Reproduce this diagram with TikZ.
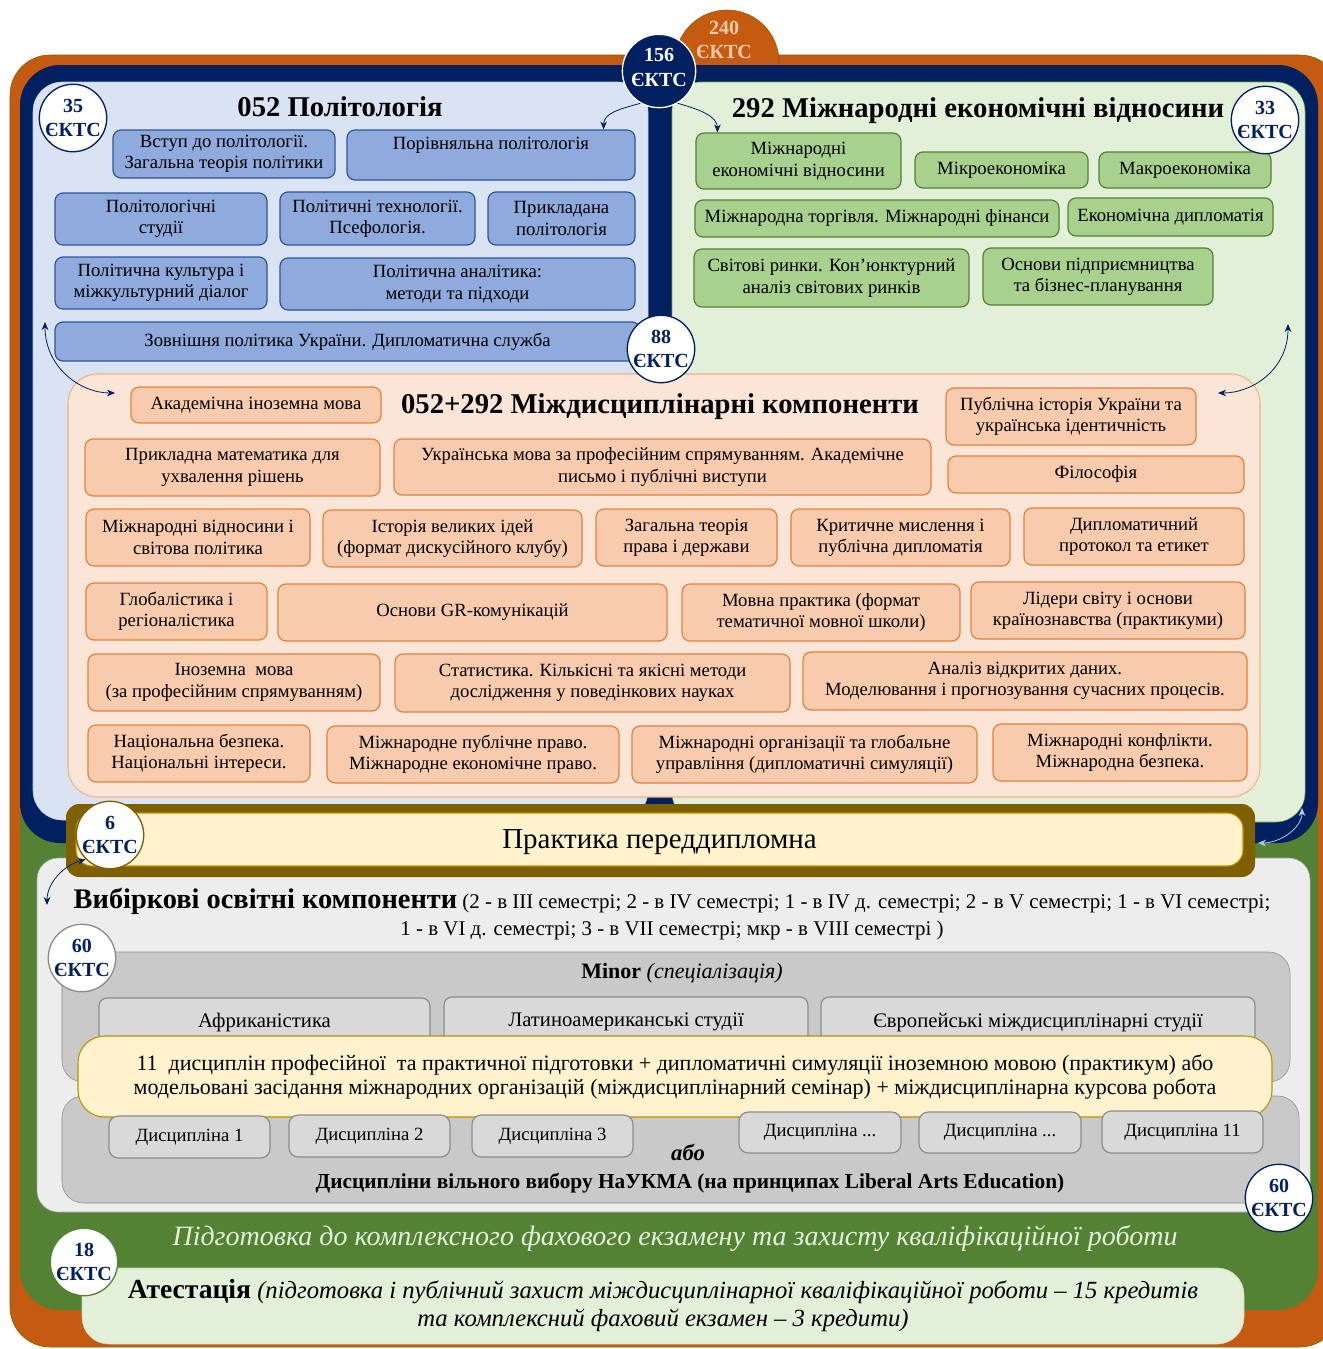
\documentclass[tikz,border=0pt]{standalone}
\usepackage{fontspec}
\setmainfont{Liberation Serif}
\usetikzlibrary{arrows.meta}

\definecolor{orfrm}{HTML}{C55A11}
\definecolor{navyc}{HTML}{002060}
\definecolor{grfrm}{HTML}{548235}
\definecolor{olivec}{HTML}{7F6000}
\definecolor{bluepan}{HTML}{DAE3F3}
\definecolor{bluepanln}{HTML}{B4C7E7}
\definecolor{bluebox}{HTML}{8FAADC}
\definecolor{blueln}{HTML}{2F5597}
\definecolor{greenpan}{HTML}{E2F0D9}
\definecolor{greenpanln}{HTML}{70AD47}
\definecolor{greenbox}{HTML}{A9D18E}
\definecolor{orpan}{HTML}{FBE5D6}
\definecolor{orpanln}{HTML}{F4B183}
\definecolor{orbox}{HTML}{F8CBAD}
\definecolor{orln}{HTML}{E2803F}
\definecolor{creamc}{HTML}{FFF2CC}
\definecolor{goldln}{HTML}{BF9000}
\definecolor{graypan}{HTML}{EDEDED}
\definecolor{graypanln}{HTML}{A6A6A6}
\definecolor{graymid}{HTML}{C9C9C9}
\definecolor{grayitem}{HTML}{D9D9D9}
\definecolor{grayln}{HTML}{8C8C8C}
\definecolor{peachtxt}{HTML}{F8CBAD}

\tikzset{
  spanbox/.style n args={4}{at={({(#1+#3)/2},{(#2+#4)/2})},
    minimum width={(#3-#1)*0.75pt}, minimum height={(#4-#2)*0.75pt}},
  pitem/.style={rounded corners=6pt, line width=0.9pt, align=center, inner sep=1pt,
    font=\fontsize{14}{16}\selectfont},
  polbox/.style={pitem, draw=blueln, fill=bluebox},
  econbox/.style={pitem, draw=grfrm, fill=greenbox},
  interbox/.style={pitem, draw=orln, fill=orbox},
  minorbox/.style={pitem, draw=grayln, fill=grayitem, text depth=0pt, font=\fontsize{15.5}{18}\selectfont},
  discbox/.style={pitem, draw=grayln, fill=grayitem, rounded corners=7pt},
  ects/.style={circle, draw=navyc, fill=white, line width=1pt, minimum size=48pt,
    inner sep=0pt, align=center, text=navyc, font=\bfseries\fontsize{15}{18.5}\selectfont},
  pantitle/.style={font=\bfseries\fontsize{21.5}{24}\selectfont},
  arr/.style={-{Stealth[length=6pt,width=5pt]}, navyc, line width=0.6pt},
  darr/.style={{Stealth[length=6pt,width=5pt]}-{Stealth[length=6pt,width=5pt]}, navyc, line width=0.6pt},
}

\begin{document}
\begin{tikzpicture}[x=0.75pt, y=-0.75pt]
\useasboundingbox (0,0) rectangle (1322,1349);

% frames
\draw[fill=orfrm, draw=olivec, rounded corners=30pt] (10,55) rectangle (1340,1347);
\node[circle, fill=orfrm, draw=olivec, minimum size=78pt, inner sep=0pt] (c240) at (727,62) {};
\fill[grfrm, rounded corners=30pt] (20,780) rectangle (1318,1310);
\fill[navyc, rounded corners=30pt] (20,65) rectangle (1318,843);

% panels
\draw[fill=bluepan, draw=bluepanln, rounded corners=22pt] (33,82) rectangle (648,820);
\draw[fill=greenpan, draw=greenpanln, rounded corners=22pt] (672,82) rectangle (1305,822);
\draw[fill=orpan, draw=orpanln, line width=0.8pt, rounded corners=22pt] (68,374) rectangle (1260,797);

% 052
\node[pantitle] (t052) at (340,107) {052 Політологія};
\node[polbox, spanbox={113}{130}{335}{178}] (vstup) {Вступ до політології.\\Загальна теорія політики};
\node[polbox, spanbox={347}{130}{635}{180}, text depth=18pt] (porivn) {Порівняльна політологія};
\node[polbox, spanbox={55}{193}{267}{245}] (polst) {Політологічні\\студії};
\node[polbox, spanbox={280}{192}{475}{245}] (poltech) {Політичні технології.\\Псефологія.};
\node[polbox, spanbox={488}{192}{635}{245}] (prykl) {Прикладана\\політологія};
\node[polbox, spanbox={55}{257}{267}{309}] (polkult) {Політична культура і\\міжкультурний діалог};
\node[polbox, spanbox={280}{258}{635}{310}] (polan) {Політична аналітика:\\методи та підходи};
\node[polbox, spanbox={55}{322}{640}{361}] (zovn) {Зовнішня політика України. Дипломатична служба};

% 292
\node[pantitle] (t292) at (978,111) {292 Міжнародні економічні відносини};
\node[econbox, spanbox={696}{133}{901}{189}] (mev) {Міжнародні\\економічні відносини};
\node[econbox, spanbox={915}{152}{1088}{188}] (mikro) {Мікроекономіка};
\node[econbox, spanbox={1099}{152}{1271}{188}] (makro) {Макроекономіка};
\node[econbox, spanbox={695}{200}{1059}{237}] (mtorg) {Міжнародна торгівля. Міжнародні фінанси};
\node[econbox, spanbox={1068}{198}{1273}{236}] (ekdyp) {Економічна дипломатія};
\node[econbox, spanbox={694}{249}{969}{307}] (svitr) {Світові ринки. Кон'юнктурний\\аналіз світових ринків};
\node[econbox, spanbox={983}{248}{1213}{305}] (osnp) {Основи підприємництва\\та бізнес-планування};

% 052+292
\node[pantitle] (tmizh) at (660,407) {052+292 Міждисциплінарні компоненти};
\node[interbox, spanbox={131}{387}{381}{423}] (akad) {Академічна іноземна мова};
\node[interbox, spanbox={946}{388}{1196}{445}] (publ) {Публічна історія України та\\українська ідентичність};
\node[interbox, spanbox={85}{439}{380}{496}] (prmat) {Прикладна математика для\\ухвалення рішень};
\node[interbox, spanbox={394}{439}{931}{495}] (ukrm) {Українська мова за професійним спрямуванням. Академічне\\письмо і публічні виступи};
\node[interbox, spanbox={948}{456}{1244}{493}] (fil) {Філософія};
\node[interbox, spanbox={86}{509}{310}{566}] (mvsp) {Міжнародні відносини і\\світова політика};
\node[interbox, spanbox={323}{510}{582}{567}] (istid) {Історія великих ідей\\(формат дискусійного клубу)};
\node[interbox, spanbox={596}{509}{777}{566}] (zagtp) {Загальна теорія\\права і держави};
\node[interbox, spanbox={791}{509}{1010}{566}] (krmysl) {Критичне мислення і\\публічна дипломатія};
\node[interbox, spanbox={1024}{508}{1244}{565}] (dyppr) {Дипломатичний\\протокол та етикет};
\node[interbox, spanbox={86}{583}{267}{640}] (glob) {Глобалістика і\\регіоналістика};
\node[interbox, spanbox={278}{584}{667}{641}] (grkom) {Основи GR-комунікацій};
\node[interbox, spanbox={682}{584}{960}{641}] (movpr) {Мовна практика (формат\\тематичної мовної школи)};
\node[interbox, spanbox={971}{582}{1245}{639}] (lider) {Лідери світу і основи\\країнознавства (практикуми)};
\node[interbox, spanbox={88}{654}{380}{711}] (inmova) {Іноземна\ \ мова\\(за професійним спрямуванням)};
\node[interbox, spanbox={395}{654}{790}{712}] (stat) {Статистика. Кількісні та якісні методи\\дослідження у поведінкових науках};
\node[interbox, spanbox={803}{652}{1247}{710}] (analiz) {Аналіз відкритих даних.\\Моделювання і прогнозування сучасних процесів.};
\node[interbox, spanbox={88}{725}{310}{782}] (natbez) {Національна безпека.\\Національні інтереси.};
\node[interbox, spanbox={327}{726}{619}{783}] (mpp) {Міжнародне публічне право.\\Міжнародне економічне право.};
\node[interbox, spanbox={632}{726}{977}{783}] (morg) {Міжнародні організації та глобальне\\управління (дипломатичні симуляції)};
\node[interbox, spanbox={993}{724}{1247}{781}] (mkonf) {Міжнародні конфлікти.\\Міжнародна безпека.};

% elective part
\draw[fill=graypan, draw=graypanln, rounded corners=16pt] (37,858) rectangle (1310,1212);
\fill[olivec, rounded corners=10pt] (66,804) rectangle (1255,877);
\node[draw=goldln, fill=creamc, rounded corners=12pt, line width=0.8pt, spanbox={76}{813}{1243}{866},
  text depth=1pt, font=\fontsize{21.7}{24}\selectfont] (prak) {Практика переддипломна};
\node[align=center, font=\fontsize{15.7}{20}\selectfont] (vybir) at (672,914)
  {{\fontsize{21.3}{20}\selectfont\bfseries Вибіркові освітні компоненти} (2 - в III семестрі; 2 - в IV семестрі; 1 - в IV д. семестрі; 2 - в V семестрі; 1 - в VI семестрі;\\1 - в VI д. семестрі; 3 - в VII семестрі; мкр - в VIII семестрі )};

\draw[fill=graymid, draw=grayln, rounded corners=16pt] (62,1096) rectangle (1299,1203);
\draw[fill=graymid, draw=grayln, rounded corners=16pt] (62,952) rectangle (1290,1082);
\node[font=\fontsize{16.5}{20}\selectfont] (minor) at (682,973) {\textbf{Minor} \textit{(спеціалізація)}};
\node[minorbox, spanbox={99}{998}{430}{1043}] (afr) {Африканістика};
\node[minorbox, spanbox={444}{997}{808}{1043}] (latam) {Латиноамериканські студії};
\node[minorbox, spanbox={821}{997}{1255}{1043}] (evr) {Європейські міждисциплінарні студії};
\node[draw=goldln, fill=creamc, rounded corners=20pt, line width=0.8pt, align=center,
  spanbox={78}{1036}{1272}{1117}, font=\fontsize{16.5}{18}\selectfont] (core)
  {11\ \ дисциплін професійної\ \ та практичної підготовки + дипломатичні симуляції іноземною мовою (практикум) або\\модельовані засідання міжнародних організацій (міждисциплінарний семінар) + міждисциплінарна курсова робота};
\node[discbox, spanbox={109}{1116}{270}{1158}] (d1) {Дисципліна 1};
\node[discbox, spanbox={289}{1115}{450}{1157}] (d2) {Дисципліна 2};
\node[discbox, spanbox={472}{1115}{633}{1157}] (d3) {Дисципліна 3};
\node[discbox, spanbox={739}{1112}{901}{1153}] (d4) {Дисципліна ...};
\node[discbox, spanbox={919}{1112}{1081}{1153}] (d5) {Дисципліна ...};
\node[discbox, spanbox={1102}{1111}{1263}{1153}] (d11) {Дисципліна 11};
\node[font=\bfseries\itshape\fontsize{17}{20}\selectfont] (abo) at (688,1152) {або};
\node[font=\bfseries\fontsize{16}{18}\selectfont] (vilny) at (690,1183) {Дисципліни вільного вибору НаУКМА (на принципах Liberal Arts Education)};

% attestation
\node[text=greenpan, font=\itshape\fontsize{21}{24}\selectfont] (prep) at (675,1238)
  {Підготовка до комплексного фахового екзамену та захисту кваліфікаційної роботи};
\node[draw=greenpan!80!grfrm, fill=greenpan, rounded corners=20pt, align=center,
  spanbox={82}{1268}{1244}{1344}, font=\itshape\fontsize{18.5}{21}\selectfont] (atest)
  {{\upshape\bfseries\fontsize{20.7}{21}\selectfont Атестація} (підготовка і публічний захист міждисциплінарної кваліфікаційної роботи – 15 кредитів\\та комплексний фаховий екзамен – 3 кредити)};

% credit circles
\node[text=peachtxt, align=center, font=\bfseries\fontsize{15}{18.5}\selectfont] (t240) at (724,40) {240\\ЄКТС};
\node[ects] (c35) at (73,118) {35\\ЄКТС};
\node[ects] (c33) at (1265,120) {33\\ЄКТС};
\node[ects] (c88) at (661,349) {88\\ЄКТС};
\node[ects, draw=olivec] (c6) at (110,835) {6\\ЄКТС};
\node[ects, draw=grayln] (c60a) at (82,958) {60\\ЄКТС};
\node[ects] (c60b) at (1279,1198) {60\\ЄКТС};
\node[ects, draw=grfrm] (c18) at (84,1262) {18\\ЄКТС};
\node[ects, fill=navyc, draw=white, text=white, minimum size=55pt, text depth=5pt] (c156) at (659,71) {156\\ЄКТС};

% arrows
\coordinate (la) at (45,322);
\coordinate (lb) at (115,393);
\coordinate (ra) at (1288,324);
\coordinate (rb) at (1218,393);
\coordinate (lc) at (47,905);
\coordinate (rc) at (1302,808);
\coordinate (rd) at (1258,843);
\draw[arr] (c156.240) .. controls +(-22,6) and +(0,-16) .. ([xshift=-24pt]porivn.north east);
\draw[arr] (c156.300) .. controls +(22,6) and +(0,-16) .. ([xshift=16.5pt]mev.north west);
\draw[darr] (la) .. controls +(0,45) and +(-35,0) .. (lb);
\draw[darr] (ra) .. controls +(0,45) and +(35,0) .. (rb);
\draw[darr] (c6.225) .. controls +(-22,6) and +(0,-22) .. (lc);
\draw[darr, draw=bluepanln] (rc) .. controls +(0,20) and +(22,0) .. (rd);
\end{tikzpicture}
\end{document}
